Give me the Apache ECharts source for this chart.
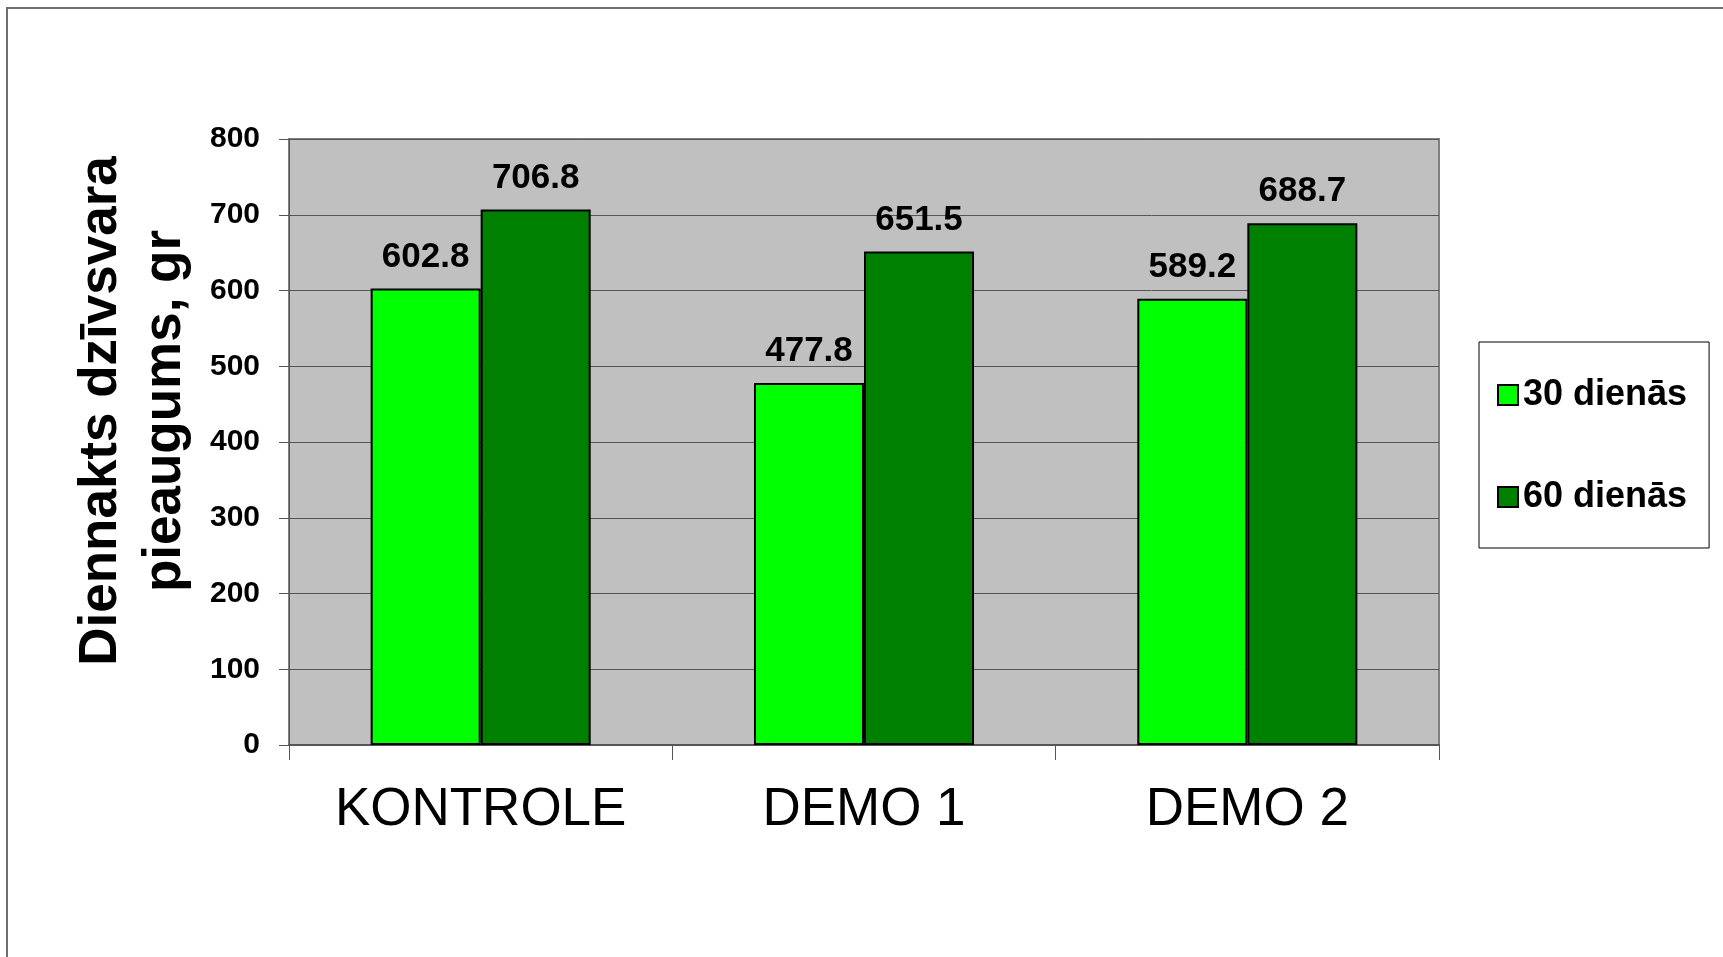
<!DOCTYPE html>
<html>
<head>
<meta charset="utf-8">
<script src="https://cdn.jsdelivr.net/npm/echarts@6/dist/echarts.min.js"></script>
<style>
  html, body { margin: 0; padding: 0; background: #fff; }
  #main { width: 1723px; height: 957px; }
</style>
</head>
<body>
<div id="main"></div>
<script>
// data
var categories = ['KONTROLE', 'DEMO 1', 'DEMO 2'];
var days30 = [602.8, 477.8, 589.2];
var days60 = [706.8, 651.5, 688.7];
var seriesNames = ['30 dienās', '60 dienās'];
var yTitle = 'Diennakts dzīvsvara\npieaugums, gr';

var font = '"Liberation Sans", Arial, sans-serif';

var myChart = echarts.init(document.getElementById('main'));

function barSeries(name, data, color) {
  return {
    name: name,
    type: 'bar',
    data: data,
    barGap: '0%',
    barCategoryGap: '42.6%',
    itemStyle: { color: color, borderColor: '#000', borderWidth: 2 },
    label: {
      show: true,
      position: 'top',
      distance: 14,
      color: '#000',
      fontSize: 35,
      fontWeight: 'bold',
      fontFamily: font,
      formatter: function (p) { return p.value.toFixed(1); }
    }
  };
}

var option = {
  animation: false,
  backgroundColor: '#fff',
  textStyle: { fontFamily: font },
  graphic: [
    {
      type: 'rect',
      shape: { x: 7, y: 8, width: 1800, height: 1000 },
      style: { fill: null, stroke: '#6e6e6e', lineWidth: 2 },
      z: -10
    },
    {
      type: 'text',
      x: 133,
      y: 411,
      rotation: Math.PI / 2,
      style: {
        text: yTitle,
        fontSize: 53,
        fontWeight: 'bold',
        fontFamily: font,
        fill: '#000',
        lineHeight: 64,
        align: 'center',
        verticalAlign: 'middle'
      }
    }
  ],
  legend: {
    orient: 'vertical',
    left: 1479,
    top: 342,
    padding: [32, 22, 30, 18],
    itemWidth: 20,
    itemHeight: 20,
    itemGap: 60,
    icon: 'rect',
    borderColor: '#000',
    borderWidth: 1,
    backgroundColor: '#fff',
    textStyle: { fontSize: 36, fontWeight: 'bold', color: '#000', fontFamily: font, lineHeight: 42 },
    data: seriesNames
  },
  grid: {
    left: 289,
    top: 139,
    width: 1150,
    height: 606,
    show: true,
    backgroundColor: '#c0c0c0',
    borderColor: '#808080',
    borderWidth: 2
  },
  xAxis: {
    type: 'category',
    data: categories,
    axisLine: { show: true, lineStyle: { color: '#555', width: 2 } },
    axisTick: { show: true, length: 15, lineStyle: { color: '#555', width: 1 } },
    axisLabel: { color: '#000', fontSize: 53, fontFamily: font, margin: 39 }
  },
  yAxis: {
    type: 'value',
    min: 0,
    max: 800,
    interval: 100,
    axisLine: { show: true, lineStyle: { color: '#555', width: 1 } },
    axisTick: { show: true, length: 10, lineStyle: { color: '#555', width: 1 } },
    axisLabel: { color: '#000', fontSize: 30, fontWeight: 'bold', fontFamily: font, margin: 29 },
    splitLine: { show: true, lineStyle: { color: '#555', width: 1 } }
  },
  series: [
    barSeries(seriesNames[0], days30, '#00ff00'),
    barSeries(seriesNames[1], days60, '#008000')
  ]
};

myChart.setOption(option);
</script>
</body>
</html>
